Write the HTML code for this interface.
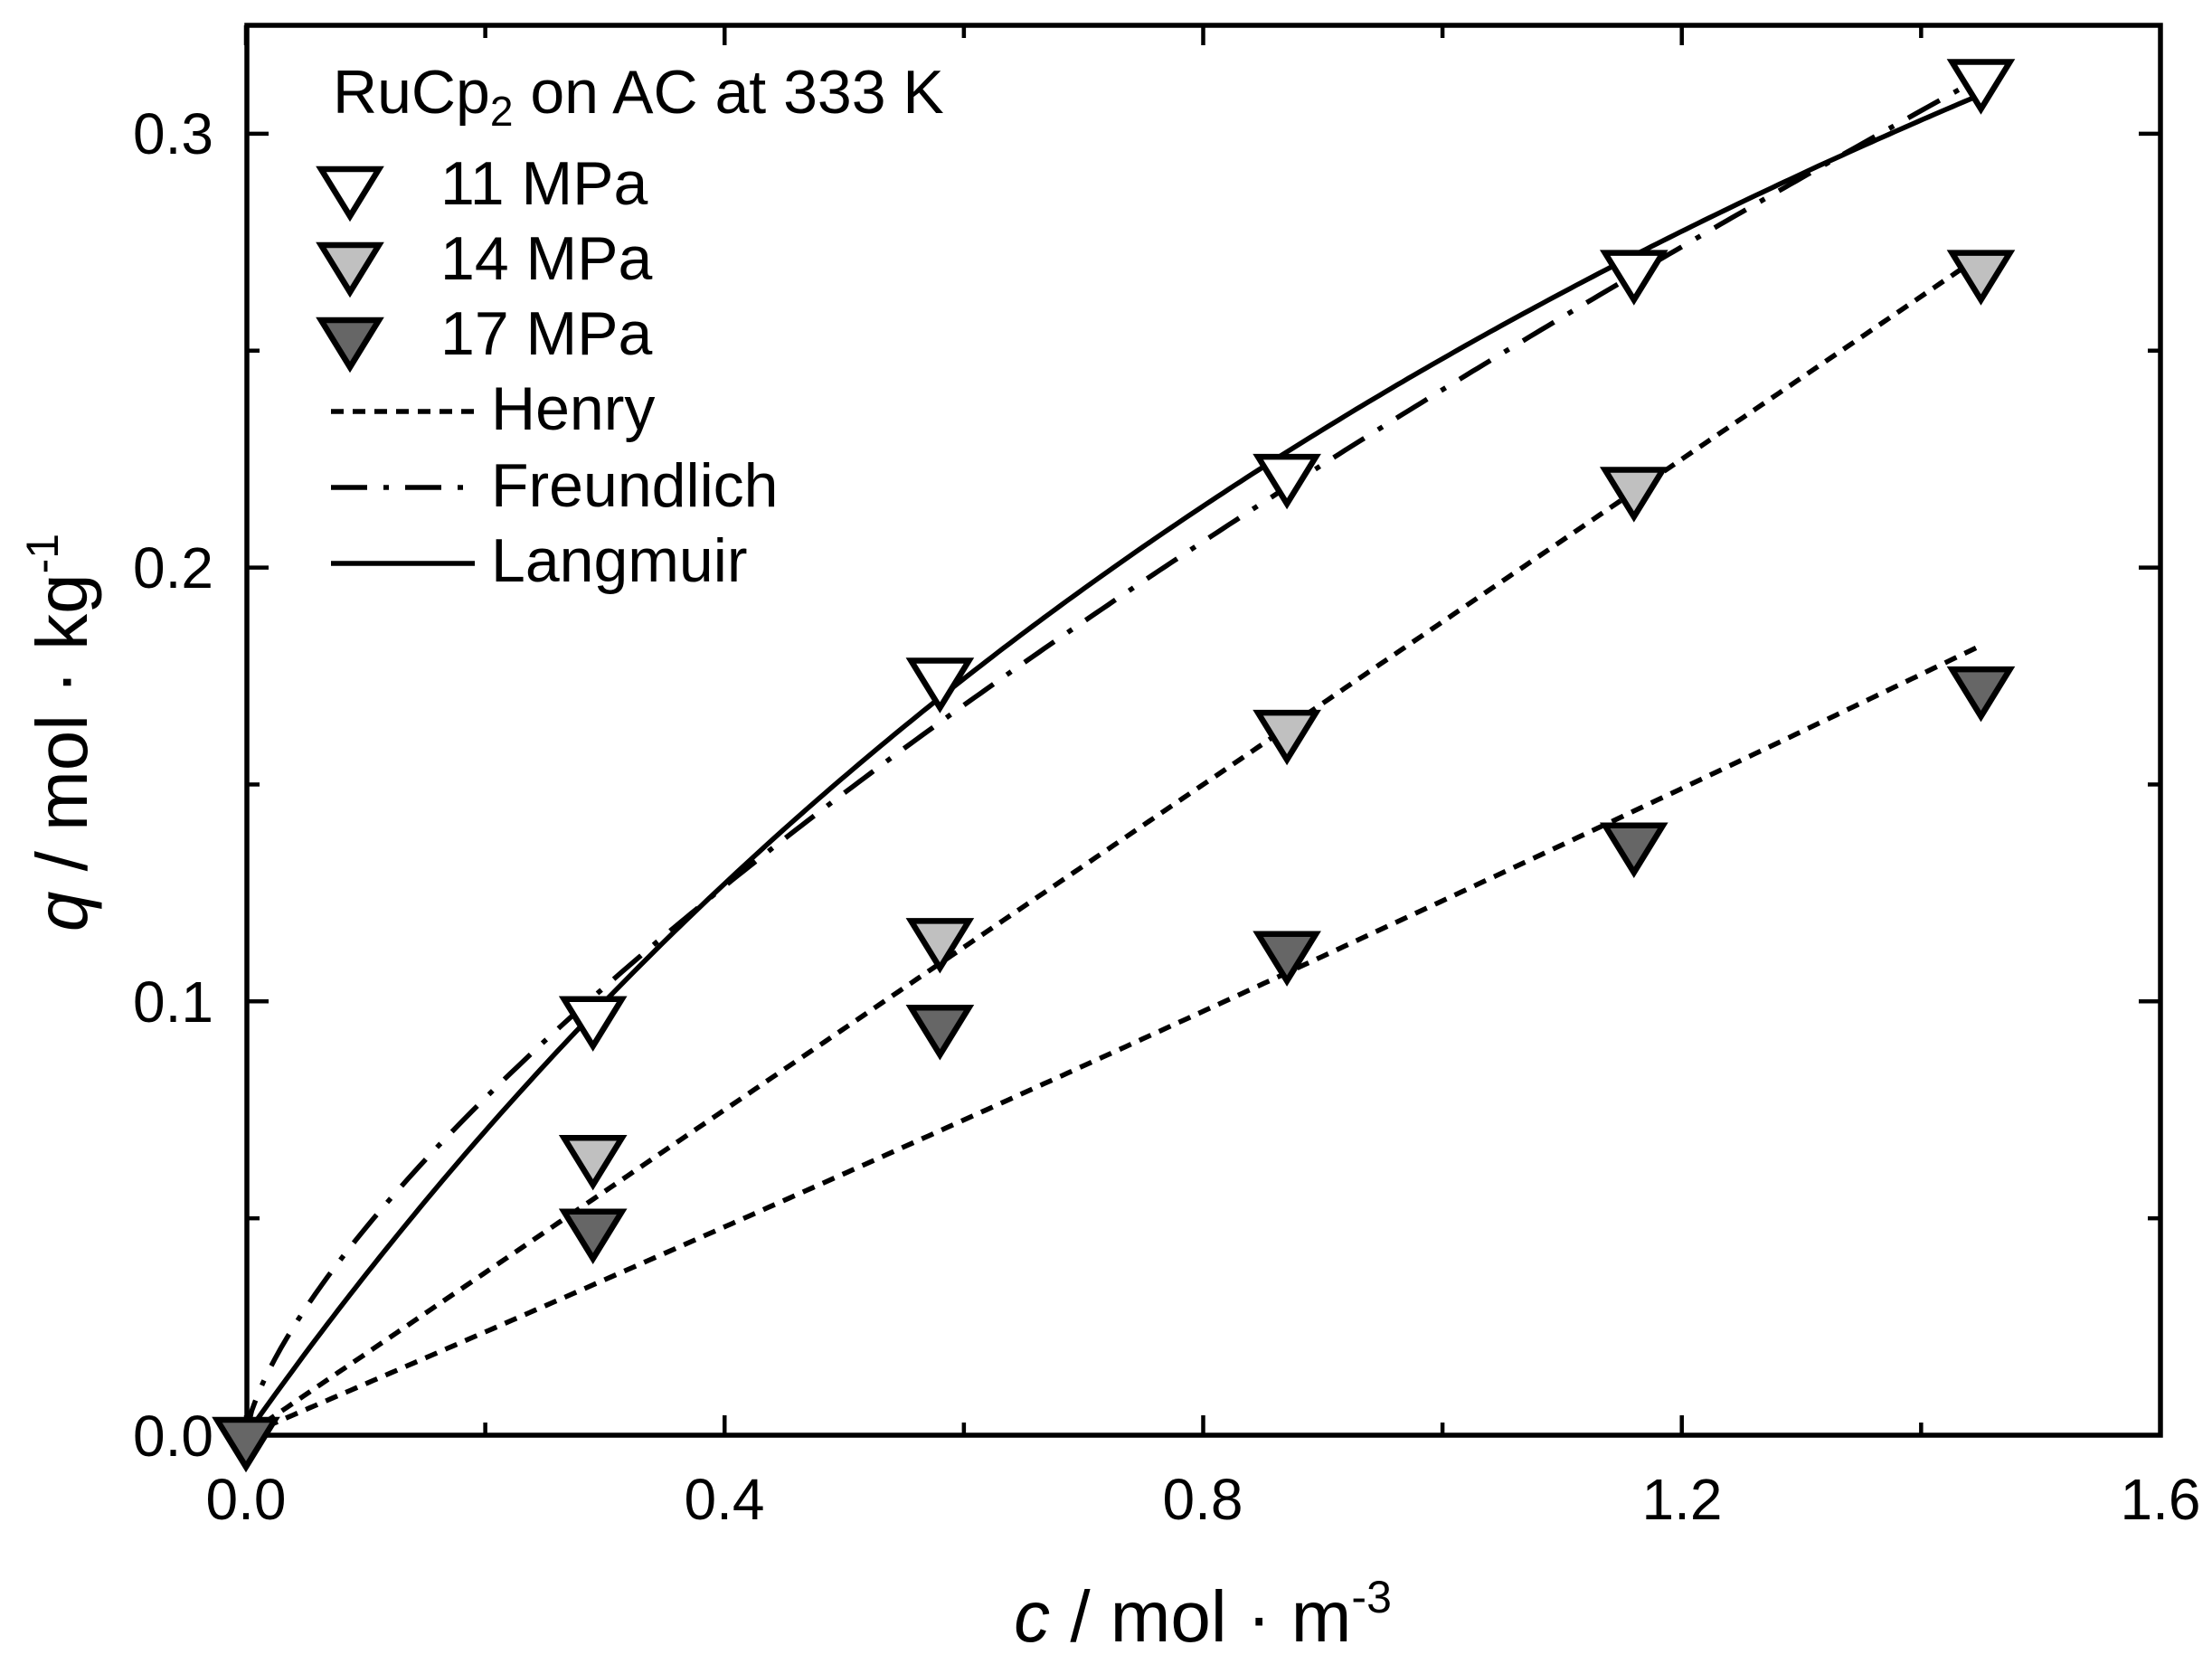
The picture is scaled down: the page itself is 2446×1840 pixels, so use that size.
<!DOCTYPE html>
<html><head><meta charset="utf-8"><style>
html,body{margin:0;padding:0;background:#fff;}
svg{display:block;}
text{font-family:"Liberation Sans",Arial,sans-serif;fill:#000;}
</style></head><body>
<svg id="s" width="2446" height="1840" viewBox="0 0 2446 1840" xmlns="http://www.w3.org/2000/svg">
<rect width="2446" height="1840" fill="#fff"/>
<g id="curves" fill="none" stroke="#000" stroke-width="5.5"></g>
<g id="ticks" stroke="#000" stroke-width="4.5"></g>
<rect x="273" y="28" width="2116" height="1559" fill="none" stroke="#000" stroke-width="5.5"/>
<g id="marks" stroke="#000" stroke-width="6.5" stroke-linejoin="miter"></g>
<g font-size="64">
<text x="236" y="170" text-anchor="end">0.3</text>
<text x="236" y="650" text-anchor="end">0.2</text>
<text x="236" y="1130" text-anchor="end">0.1</text>
<text x="236" y="1610" text-anchor="end">0.0</text>
<text x="272" y="1680" text-anchor="middle">0.0</text>
<text x="801" y="1680" text-anchor="middle">0.4</text>
<text x="1330" y="1680" text-anchor="middle">0.8</text>
<text x="1860" y="1680" text-anchor="middle">1.2</text>
<text x="2389" y="1680" text-anchor="middle">1.6</text>
</g>
<text x="1330" y="1815" font-size="80" text-anchor="middle"><tspan font-style="italic">c</tspan> / mol · m<tspan font-size="50" dy="-32">-3</tspan></text>
<text transform="translate(96,810) rotate(-90)" font-size="80" text-anchor="middle"><tspan font-style="italic">q</tspan> / mol · kg<tspan font-size="50" dy="-32">-1</tspan></text>
<g font-size="68">
<text x="368" y="125">RuCp<tspan font-size="46" dy="14">2</tspan><tspan dy="-14"> on AC at 333 K</tspan></text>
<text x="487" y="226">11 MPa</text>
<text x="487" y="309">14 MPa</text>
<text x="487" y="392">17 MPa</text>
<text x="543" y="475">Henry</text>
<text x="543" y="560">Freundlich</text>
<text x="543" y="643">Langmuir</text>
</g>
<g stroke="#000" stroke-width="5.5" fill="none">
<line x1="366" y1="455" x2="525" y2="455" stroke-dasharray="14,10"/>
<line x1="366" y1="539" x2="515" y2="539" stroke-dasharray="40,18,6,18"/>
<line x1="366" y1="623" x2="525" y2="623"/>
</g>
</svg>
<script>
var X=function(c){return 272+c*1323.1;},Y=function(q){return 1587-q*4797;};
var ns="http://www.w3.org/2000/svg";
function el(p,t,a){var e=document.createElementNS(ns,t);for(var k in a)e.setAttribute(k,a[k]);document.getElementById(p).appendChild(e);return e;}
function path(f,dash){var d="";for(var i=0;i<=300;i++){var c=1.45*i/300;d+=(i?"L":"M")+X(c).toFixed(1)+","+Y(f(c)).toFixed(1);}var a={d:d};if(dash)a["stroke-dasharray"]=dash;el("curves","path",a);}
path(function(c){return 0.391*c/(1+0.5756*c);});
path(function(c){return 0.241*Math.pow(c,0.703);},"40,18,6,18");
path(function(c){return 0.1875*c;},"14,10");
path(function(c){return 0.118*c+0.0052*c*c;},"14,10");
for(var i=0;i<=8;i++){var x=X(i*0.2),L=(i%2==0)?22:14;
el("ticks","line",{x1:x,y1:1587,x2:x,y2:1587-L});el("ticks","line",{x1:x,y1:28,x2:x,y2:28+L});}
for(var j=0;j<=6;j++){var y=Y(j*0.05),L=(j%2==0)?24:14;
el("ticks","line",{x1:273,y1:y,x2:273+L,y2:y});el("ticks","line",{x1:2389,y1:y,x2:2389-L,y2:y});}
function tri(x,y,f){el("marks","polygon",{points:(x-32)+","+(y-17)+" "+(x+32)+","+(y-17)+" "+x+","+(y+35),fill:f});}
var cs=[0.29,0.58,0.87,1.16,1.45];
var s1=[0.097,0.175,0.222,0.269,0.313],s2=[0.065,0.115,0.163,0.219,0.269],s3=[0.048,0.095,0.112,0.137,0.173];
for(var k=0;k<5;k++){tri(X(cs[k]),Y(s1[k]),"#fff");tri(X(cs[k]),Y(s2[k]),"#c0c0c0");tri(X(cs[k]),Y(s3[k]),"#666");}
tri(X(0),Y(0),"#666");
tri(387,204,"#fff");tri(387,288,"#c0c0c0");tri(387,371,"#666");
</script>
</body></html>
